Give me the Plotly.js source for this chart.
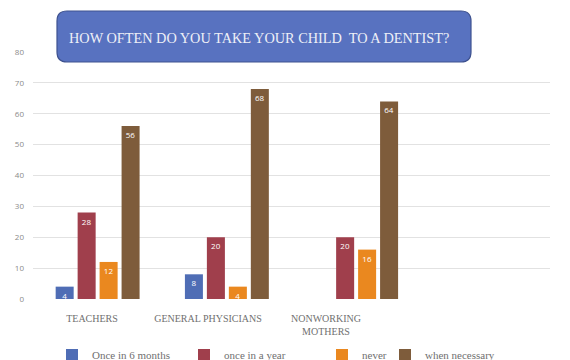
<!DOCTYPE html>
<html>
<head>
<meta charset="utf-8">
<script src="https://cdn.plot.ly/plotly-3.0.1.min.js"></script>
<style>html,body{margin:0;padding:0;background:#fff;}#chart{width:570px;height:360px;}</style>
</head>
<body>
<div id="chart"></div>
<script>
var categories = ['TEACHERS', 'GENERAL PHYSICIANS', 'NONWORKING<br>MOTHERS'];
var seriesNames = ['Once in 6 months', 'once in a year', 'never', 'when necessary'];
var onceIn6Months = [4, 8, 0];
var onceInAYear = [28, 20, 20];
var never = [12, 4, 16];
var whenNecessary = [56, 68, 64];
var yTicks = [0, 10, 20, 30, 40, 50, 60, 70, 80];
var titleText = 'HOW OFTEN DO YOU TAKE YOUR CHILD&nbsp; TO A DENTIST?';

var colors = ['#4f6db5', '#a03f4c', '#ea881f', '#7e5c3b'];
var allSeries = [onceIn6Months, onceInAYear, never, whenNecessary];

var W = 570, H = 360;
var M = {l: 33, r: 20, t: 52, b: 61};
var pw = W - M.l - M.r, ph = H - M.t - M.b;
function px(x) { return (x - M.l) / pw; }
function py(y) { return (H - M.b - y) / ph; }
// x-axis: 4 slots (last one empty) -> data coordinate from pixel
var nSlots = 4;
function dx(x) { return (x - M.l) / (pw / nSlots) - 0.5; }

var legendKeys = ['legend', 'legend2', 'legend3', 'legend4'];
var legendSymbolX = [69, 201, 339, 402];
var tickLabelCenters = [92, 208, 326];

var traces = allSeries.map(function (vals, i) {
  return {
    type: 'bar',
    name: seriesNames[i],
    x: categories,
    y: vals,
    marker: {color: colors[i]},
    text: vals.map(function (v) { return v ? String(v) : ''; }),
    textposition: 'inside',
    insidetextanchor: 'end',
    textangle: 0,
    textfont: {family: 'Open Sans, sans-serif', size: 8, color: '#ffffff'},
    constraintext: 'none',
    showlegend: true,
    legend: legendKeys[i]
  };
});

// rounded rectangle for title box
var bx0 = 57, bx1 = 471, by0 = 11, by1 = 62, r = 10;
function P(x, y) { return px(x) + ',' + py(y); }
var boxPath = 'M ' + P(bx0 + r, by0) +
  ' L ' + P(bx1 - r, by0) +
  ' Q ' + P(bx1, by0) + ' ' + P(bx1, by0 + r) +
  ' L ' + P(bx1, by1 - r) +
  ' Q ' + P(bx1, by1) + ' ' + P(bx1 - r, by1) +
  ' L ' + P(bx0 + r, by1) +
  ' Q ' + P(bx0, by1) + ' ' + P(bx0, by1 - r) +
  ' L ' + P(bx0, by0 + r) +
  ' Q ' + P(bx0, by0) + ' ' + P(bx0 + r, by0) + ' Z';

var layout = {
  width: W, height: H,
  margin: M,
  showlegend: true,
  paper_bgcolor: '#ffffff',
  plot_bgcolor: '#ffffff',
  barmode: 'group',
  bargap: 0.32,
  bargroupgap: 0.18,
  xaxis: {
    type: 'category',
    range: [-0.5, nSlots - 0.5],
    tickmode: 'array',
    tickvals: tickLabelCenters.map(dx),
    ticktext: categories,
    showgrid: false,
    showline: false,
    ticks: '',
    automargin: false,
    ticklabelstandoff: 12,
    tickfont: {family: 'Liberation Serif, Times New Roman, serif', size: 10, color: '#707070'},
    fixedrange: true
  },
  yaxis: {
    range: [0, 80],
    tickvals: yTicks,
    ticktext: yTicks.map(String),
    showgrid: true,
    gridcolor: '#e2e2e2',
    gridwidth: 1,
    zeroline: false,
    showline: false,
    ticks: '',
    automargin: false,
    ticklabelstandoff: 8,
    tickfont: {family: 'Open Sans, sans-serif', size: 8, color: '#8a8a8a'},
    fixedrange: true
  },
  shapes: [{
    type: 'path',
    xref: 'paper', yref: 'paper',
    path: boxPath,
    fillcolor: '#5872c0',
    line: {color: '#3e5290', width: 1.2},
    layer: 'above'
  }],
  annotations: [{
    xref: 'paper', yref: 'paper',
    x: px(67), y: py(38),
    xanchor: 'left', yanchor: 'middle',
    text: titleText,
    showarrow: false,
    font: {family: 'Liberation Serif, Times New Roman, serif', size: 14.3, color: '#eef0f7'}
  }],
  hovermode: false
};

legendKeys.forEach(function (k, i) {
  layout[k] = {
    orientation: 'h',
    xref: 'container',
    yref: 'container',
    x: (legendSymbolX[i] - 17) / W,
    xanchor: 'left',
    y: 1 - 355 / H,
    yanchor: 'middle',
    bgcolor: 'rgba(0,0,0,0)',
    borderwidth: 0,
    font: {family: 'Liberation Serif, Times New Roman, serif', size: 11, color: '#707070'},
    itemclick: false,
    itemdoubleclick: false
  };
});

Plotly.newPlot('chart', traces, layout, {displayModeBar: false, staticPlot: true});
</script>
</body>
</html>
